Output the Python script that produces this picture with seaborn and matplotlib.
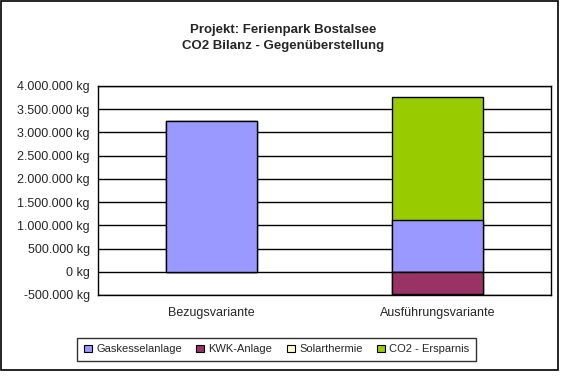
import matplotlib
matplotlib.use("Agg")
import matplotlib.pyplot as plt
from matplotlib.patches import Patch, Rectangle
import pandas as pd
import seaborn as sns

# Werte (kg CO2)
varianten = ["Bezugsvariante", "Ausführungsvariante"]
gaskessel = [3250000, 1120000]
kwk = [0, -475000]
solar = [0, -12000]
ersparnis = [0, 2640000]
serien = ["Gaskesselanlage", "KWK-Anlage", "Solarthermie", "CO2 - Ersparnis"]
farben = ["#9999FF", "#993366", "#FFFFCC", "#99CC00"]
yticks = list(range(-500000, 4000001, 500000))

sns.set_style("white")
plt.rcParams["font.family"] = ["Liberation Sans", "DejaVu Sans"]

df = pd.DataFrame({"Variante": varianten, "Gas": gaskessel, "KWK": kwk,
                   "Solar": solar, "CO2": ersparnis})
df["pos_top"] = df["Gas"] + df["CO2"]
df["neg_low"] = df["KWK"] + df["Solar"]

fig = plt.figure(figsize=(5.67, 3.78), dpi=100)
ax = fig.add_axes([0.1728, 0.2196, 0.799, 0.553])

# gestapelte Balken durch Überlagern der kumulierten Summen
kw = dict(width=0.40, edgecolor="black", linewidth=1, zorder=3)
sns.barplot(data=df, x="Variante", y="pos_top", color=farben[3], saturation=1, ax=ax, **kw)
sns.barplot(data=df, x="Variante", y="Gas", color=farben[0], saturation=1, ax=ax, **kw)
sns.barplot(data=df, x="Variante", y="neg_low", color=farben[2], saturation=1, ax=ax, **kw)
sns.barplot(data=df, x="Variante", y="KWK", color=farben[1], saturation=1, ax=ax, **kw)
# leere Balken (Wert 0) ohne Rand
for p in ax.patches:
    if abs(p.get_height()) < 1:
        p.set_visible(False)

ax.set_ylim(-500000, 4000000)
ax.set_xlim(-0.5, 1.5)
ax.set_yticks(yticks)
ax.set_yticklabels([f"{v:,.0f} kg".replace(",", ".") for v in yticks], fontsize=9)
ax.set_xticks([-0.5, 0.5, 1.5], minor=True)
ax.tick_params(axis="x", which="major", labelsize=9, length=0, pad=9)
ax.tick_params(axis="x", which="minor", length=4, width=1, color="black", direction="out")
ax.tick_params(axis="y", length=4, width=1, color="black", direction="out", pad=2)
ax.yaxis.grid(True, color="black", linewidth=1, zorder=0)
ax.set_axisbelow(True)
for s in ax.spines.values():
    s.set_visible(True)
    s.set_color("black")
    s.set_linewidth(1)
ax.set_xlabel("")
ax.set_ylabel("")

fig.text(0.5, 0.92, "Projekt: Ferienpark Bostalsee", ha="center", va="center",
         fontsize=9.5, fontweight="bold")
fig.text(0.5, 0.878, "CO2 Bilanz - Gegenüberstellung", ha="center", va="center",
         fontsize=9.5, fontweight="bold")

handles = [Patch(facecolor=c, edgecolor="black", linewidth=0.8) for c in farben]
leg = fig.legend(handles, serien, loc="center", bbox_to_anchor=(0.488, 0.0754), ncol=4,
                 fontsize=8, frameon=True, fancybox=False, edgecolor="black",
                 handlelength=0.7, handleheight=0.7, handletextpad=0.4, columnspacing=1.3,
                 borderpad=0.6)
leg.get_frame().set_linewidth(1)

fig.patches.append(Rectangle((0.002, 0.021), 0.982, 0.976, transform=fig.transFigure,
                             fill=False, edgecolor="black", linewidth=1.2))

fig.savefig("out.png", dpi=100)
